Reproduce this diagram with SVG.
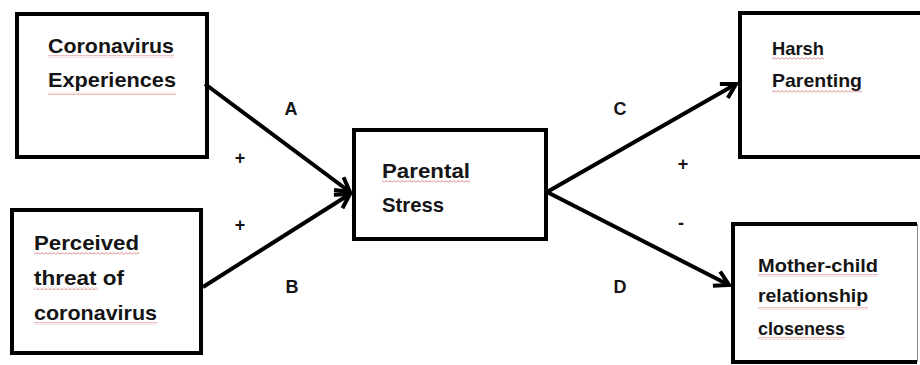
<svg xmlns="http://www.w3.org/2000/svg" width="920" height="365" viewBox="0 0 920 365">
<style>
.box{fill:#fff;stroke:#000;stroke-width:4}
.t{font-family:"Liberation Sans",Arial,sans-serif;font-weight:bold;fill:#151515}
.big{font-size:21px}
.sm{font-size:18.5px}
.lbl{font-family:"Liberation Sans",Arial,sans-serif;font-weight:bold;font-size:18px;fill:#151515;text-anchor:middle}
.conn{stroke:#000;stroke-width:4;fill:none;marker-end:url(#arr)}
.wavy{fill:url(#wv)}
</style>
<defs>
<marker id="arr" markerUnits="userSpaceOnUse" viewBox="0 0 20 20" refX="17" refY="10" markerWidth="20" markerHeight="20" orient="auto">
<path d="M3,2 L17,10 L3,18" fill="none" stroke="#000" stroke-width="4"/>
</marker>
<pattern id="wv" patternUnits="userSpaceOnUse" width="4" height="3">
<path d="M0,2.5 L2,0.5 L4,2.5" fill="none" stroke="#d07070" stroke-width="0.9"/>
</pattern>
</defs>
<rect width="920" height="365" fill="#fff"/>
<g id="n1">
<rect class="box" x="17" y="14" width="190" height="143"/>
<text class="t big" x="48" y="53" textLength="126" lengthAdjust="spacingAndGlyphs">Coronavirus</text>
<text class="t big" x="48" y="87" textLength="128" lengthAdjust="spacingAndGlyphs">Experiences</text>
<rect class="wavy" x="48" y="55" width="126" height="3"/>
<rect class="wavy" x="48" y="92" width="128" height="3"/>
</g>
<g id="n2">
<rect class="box" x="12" y="210" width="189" height="143"/>
<text class="t big" x="34" y="250" textLength="105" lengthAdjust="spacingAndGlyphs">Perceived</text>
<text class="t big" x="34" y="285" textLength="90" lengthAdjust="spacingAndGlyphs">threat of</text>
<text class="t big" x="34" y="320" textLength="123" lengthAdjust="spacingAndGlyphs">coronavirus</text>
<rect class="wavy" x="34" y="252" width="105" height="3"/>
<rect class="wavy" x="34" y="287" width="64" height="3"/>
<rect class="wavy" x="34" y="322" width="123" height="3"/>
</g>
<g id="n3">
<rect class="box" x="354" y="130" width="192" height="109"/>
<text class="t big" x="382" y="178" textLength="88" lengthAdjust="spacingAndGlyphs">Parental</text>
<text class="t big" x="382" y="212" textLength="62" lengthAdjust="spacingAndGlyphs">Stress</text>
<rect class="wavy" x="382" y="180" width="88" height="3"/>
</g>
<g id="n4">
<rect class="box" x="740" y="13" width="190" height="144"/>
<text class="t sm" x="772" y="55" textLength="52" lengthAdjust="spacingAndGlyphs">Harsh</text>
<text class="t sm" x="772" y="87" textLength="90" lengthAdjust="spacingAndGlyphs">Parenting</text>
<rect class="wavy" x="772" y="57" width="52" height="3"/>
<rect class="wavy" x="772" y="90" width="90" height="3"/>
</g>
<g id="n5">
<rect x="733" y="224" width="184" height="138" fill="#fff"/>
<path d="M917,224 L733,224 L733,362 L917,362" fill="none" stroke="#000" stroke-width="4"/>
<line x1="917.5" y1="224" x2="917.5" y2="362" stroke="#888" stroke-width="1"/>
<text class="t sm" x="758" y="272" textLength="120" lengthAdjust="spacingAndGlyphs">Mother-child</text>
<text class="t sm" x="758" y="302" textLength="110" lengthAdjust="spacingAndGlyphs">relationship</text>
<text class="t sm" x="758" y="335" textLength="87" lengthAdjust="spacingAndGlyphs">closeness</text>
<rect class="wavy" x="758" y="274" width="120" height="3"/>
<rect class="wavy" x="758" y="307" width="110" height="3"/>
<rect class="wavy" x="758" y="337" width="87" height="3"/>
</g>
<g id="connectors">
<line class="conn" x1="205" y1="84" x2="350" y2="192"/>
<line class="conn" x1="203" y1="287" x2="350" y2="194"/>
<line class="conn" x1="547" y1="192" x2="736" y2="84"/>
<line class="conn" x1="547" y1="192" x2="729" y2="285"/>
</g>
<g id="labels">
<text class="lbl" x="291" y="115">A</text>
<text class="lbl" x="240" y="164">+</text>
<text class="lbl" x="240" y="231">+</text>
<text class="lbl" x="292" y="293">B</text>
<text class="lbl" x="620" y="115">C</text>
<text class="lbl" x="683" y="170">+</text>
<text class="lbl" x="681" y="229">-</text>
<text class="lbl" x="620" y="293">D</text>
</g>
</svg>
